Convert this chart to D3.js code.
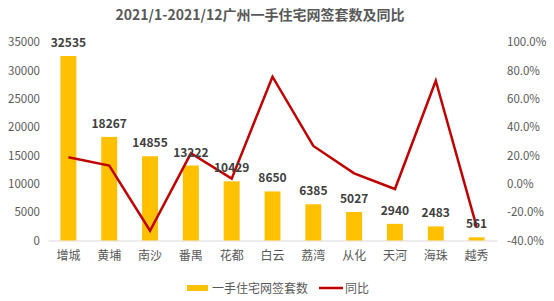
<!DOCTYPE html>
<html>
<head>
<meta charset="utf-8">
<script src="https://cdn.jsdelivr.net/npm/d3@7"></script>
<style>
  body { margin: 0; background: #fff; }
  svg text { font-family: "Noto Sans CJK SC", "Microsoft YaHei", sans-serif; }
</style>
</head>
<body>
<div id="chart"></div>
<script>
// 数据
var districts = ["增城", "黄埔", "南沙", "番禺", "花都", "白云", "荔湾", "从化", "天河", "海珠", "越秀"];
var sales = [32535, 18267, 14855, 13222, 10429, 8650, 6385, 5027, 2940, 2483, 561];
var yoy = [18.7, 12.8, -33.1, 21.5, 3.6, 75.5, 26.7, 7.4, -3.7, 72.7, -30.2];
var leftTicks = [0, 5000, 10000, 15000, 20000, 25000, 30000, 35000];
var rightTicks = [-40, -20, 0, 20, 40, 60, 80, 100];

var W = 554, H = 301;
var margin = {top: 42, right: 57, bottom: 60.5, left: 48};
var width = W - margin.left - margin.right,
    height = H - margin.top - margin.bottom;

var svg = d3.select("#chart").append("svg")
    .attr("width", W)
    .attr("height", H);

// 标题
svg.append("text")
  .attr("x", 260).attr("y", 20)
  .attr("text-anchor", "middle")
  .style("font-size", "14px").style("font-weight", "bold")
  .style("fill", "#595959")
  .text("2021/1-2021/12广州一手住宅网签套数及同比");

var g = svg.append("g").attr("transform", "translate(" + margin.left + "," + margin.top + ")");

var x = d3.scaleBand().domain(districts).range([0, width]).paddingInner(0.61).paddingOuter(0.305);
var y = d3.scaleLinear().domain([0, 35000]).range([height, 0]);
var y2 = d3.scaleLinear().domain([-40, 100]).range([height, 0]);

// 左轴
var leftAxis = g.append("g")
  .call(d3.axisLeft(y).tickValues(leftTicks).tickSize(0).tickPadding(8).tickFormat(d3.format("d")));
leftAxis.select(".domain").remove();
leftAxis.selectAll("text").style("font-size", "11.5px").style("fill", "#595959");

// 右轴
var rightAxis = g.append("g")
  .attr("transform", "translate(" + (width + 10) + ",0)")
  .call(d3.axisRight(y2).tickValues(rightTicks).tickSize(0).tickPadding(0)
    .tickFormat(function (d) { return d.toFixed(1) + "%"; }));
rightAxis.select(".domain").remove();
rightAxis.selectAll("text").style("font-size", "11.5px").style("fill", "#595959");

// 底部基线 + 分类标签
var xAxis = g.append("g")
  .attr("transform", "translate(0," + height + ")")
  .call(d3.axisBottom(x).tickSize(0).tickPadding(11));
xAxis.select(".domain").attr("stroke", "#d9d9d9");
xAxis.selectAll("text").style("font-size", "12px").style("fill", "#595959");

// 柱子
g.selectAll("rect.bar")
  .data(sales)
  .enter().append("rect")
    .attr("class", "bar")
    .attr("x", function (d, i) { return x(districts[i]); })
    .attr("y", function (d) { return y(d); })
    .attr("width", x.bandwidth())
    .attr("height", function (d) { return height - y(d); })
    .style("fill", "#FFC000");

// 折线
var line = d3.line()
  .x(function (d, i) { return x(districts[i]) + x.bandwidth() / 2; })
  .y(function (d) { return y2(d); });
g.append("path")
  .datum(yoy)
  .attr("d", line)
  .attr("fill", "none")
  .attr("stroke", "#C00000")
  .attr("stroke-width", 2.5)
  .attr("stroke-linejoin", "miter");

// 数据标签
g.selectAll("text.lbl")
  .data(sales)
  .enter().append("text")
    .attr("class", "lbl")
    .attr("x", function (d, i) { return x(districts[i]) + x.bandwidth() / 2; })
    .attr("y", function (d) { return y(d) - 9; })
    .attr("text-anchor", "middle")
    .style("font-size", "12px").style("font-weight", "bold")
    .style("fill", "#404040")
    .text(function (d) { return d; });

// 图例
var legend = svg.append("g").attr("transform", "translate(187,288)");
legend.append("rect").attr("x", 0).attr("y", -3).attr("width", 21).attr("height", 6).style("fill", "#FFC000");
legend.append("text").attr("x", 25).attr("y", 4.5).style("font-size", "12px").style("fill", "#595959").text("一手住宅网签套数");
legend.append("line").attr("x1", 132).attr("x2", 156).attr("y1", 0).attr("y2", 0)
  .attr("stroke", "#C00000").attr("stroke-width", 2.5);
legend.append("text").attr("x", 158).attr("y", 4.5).style("font-size", "12px").style("fill", "#595959").text("同比");
</script>
</body>
</html>
